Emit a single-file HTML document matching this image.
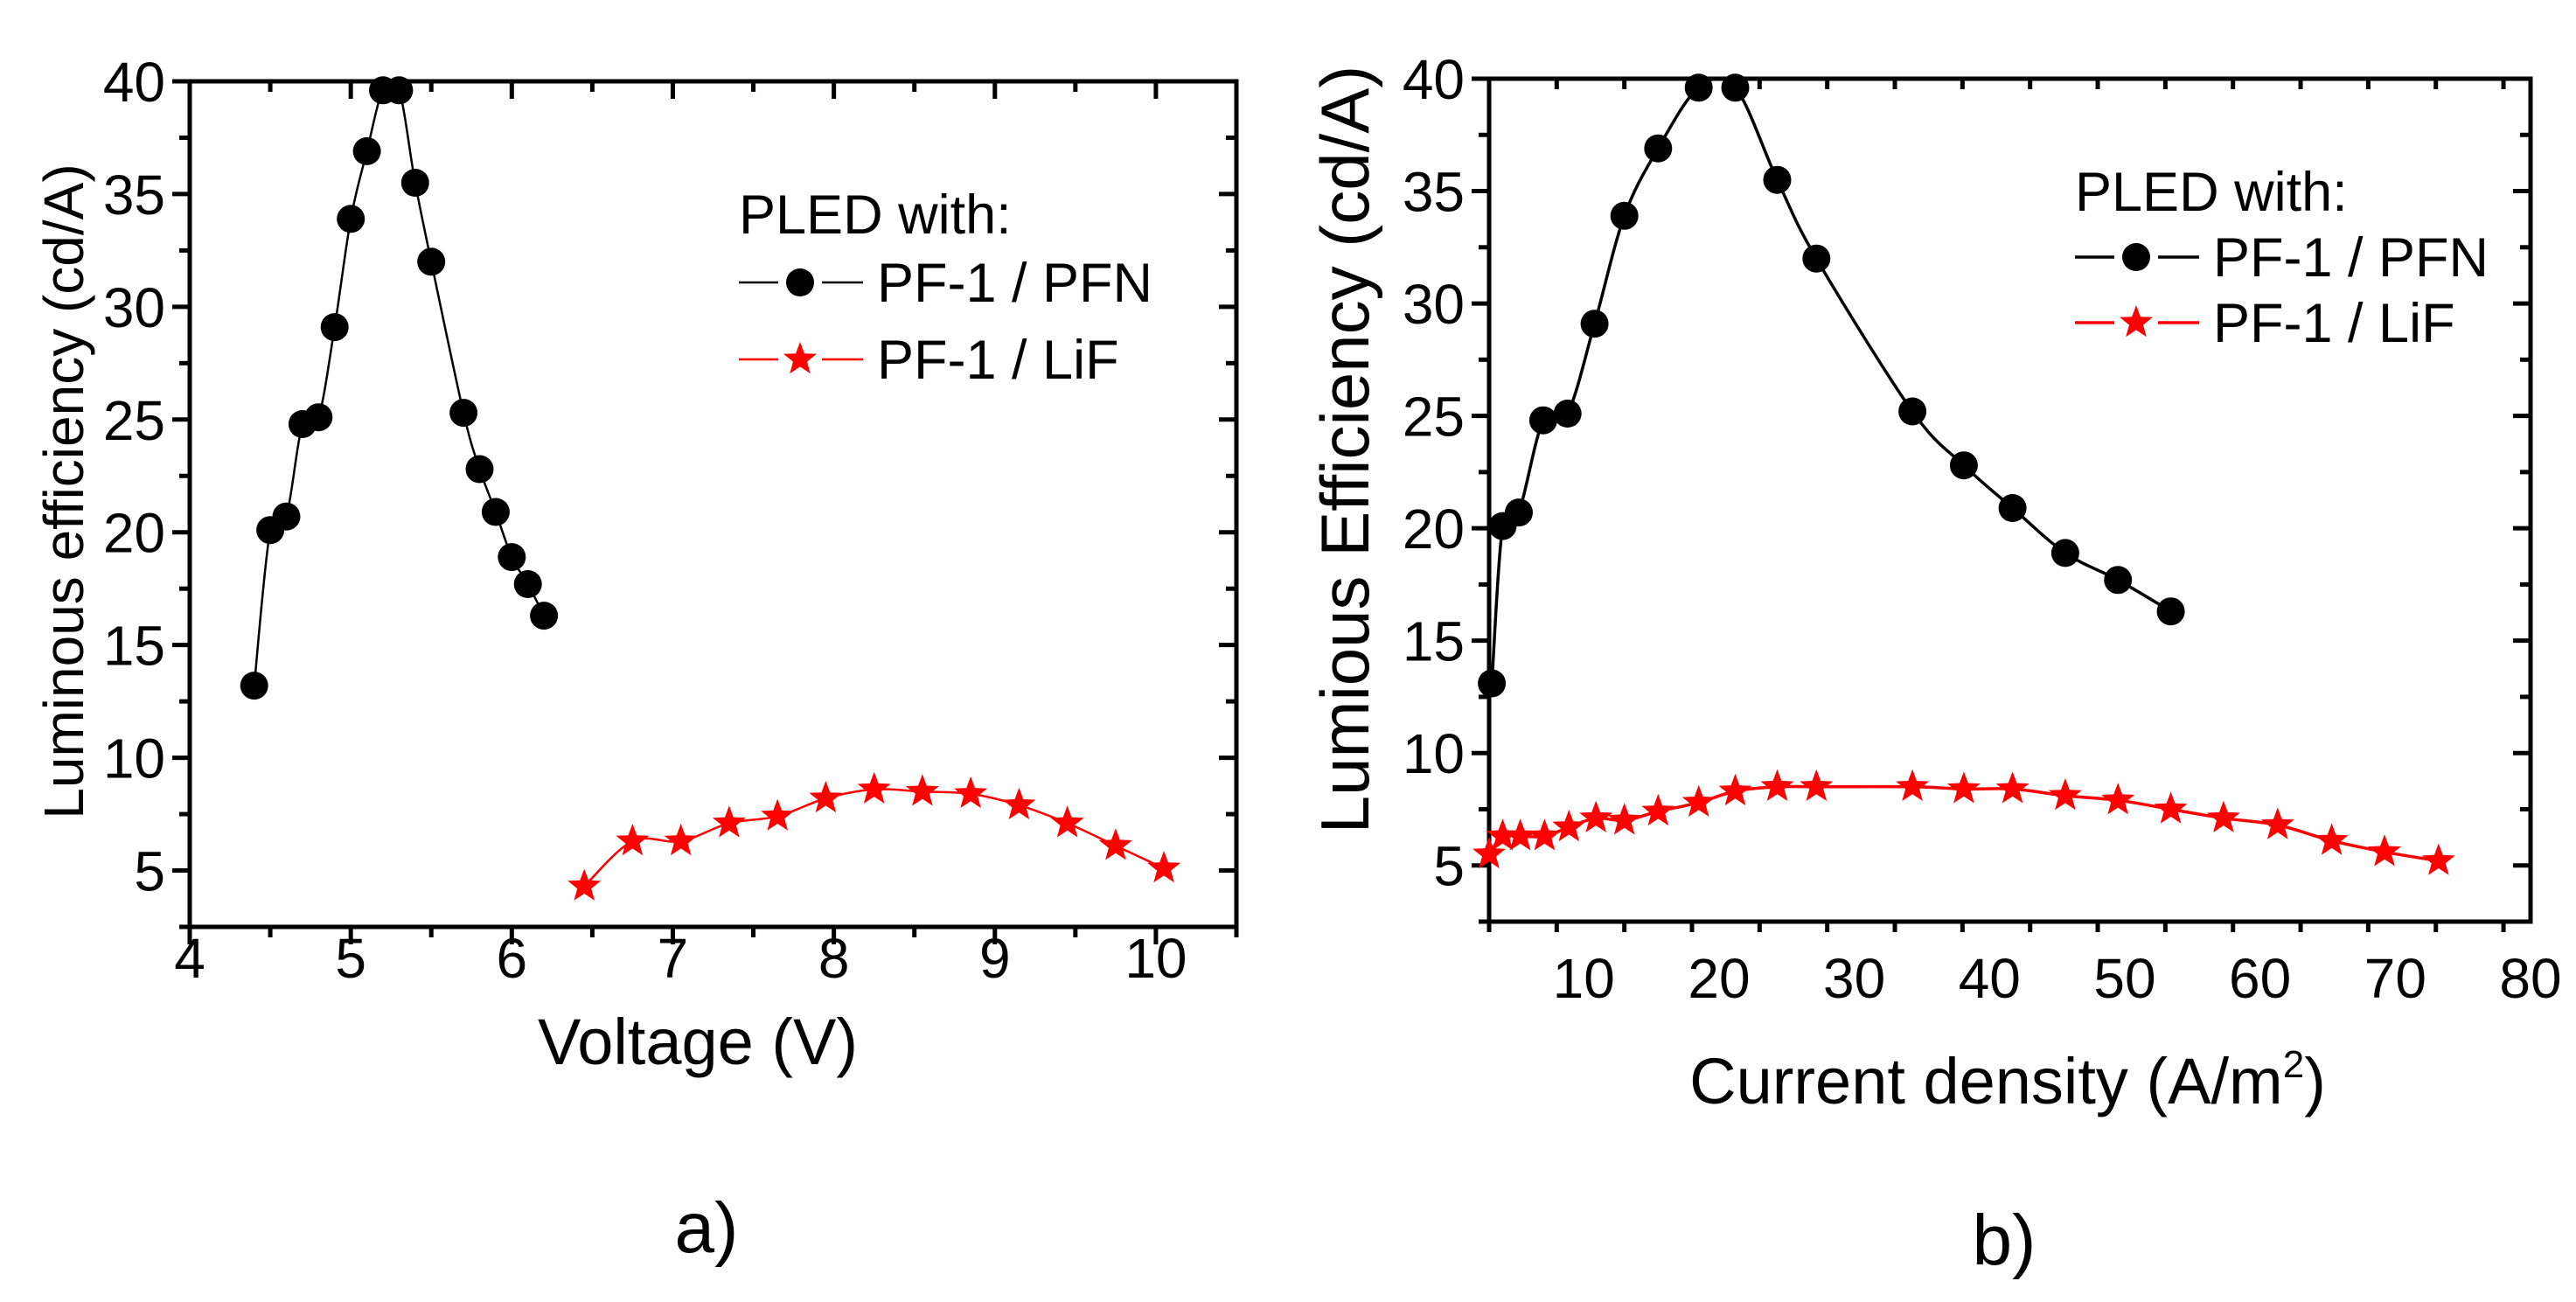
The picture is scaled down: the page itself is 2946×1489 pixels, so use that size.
<!DOCTYPE html>
<html><head><meta charset="utf-8"><style>
body{margin:0;background:#fff;}
svg text{font-family:"Liberation Sans",Arial,sans-serif;fill:#000;}
</style></head><body>
<svg id="fig" width="2946" height="1484" viewBox="0 0 2946 1484" xmlns="http://www.w3.org/2000/svg"></svg>
<script>
const voltageA = [4.4,4.5,4.6,4.7,4.8,4.9,5.0,5.1,5.2,5.3,5.4,5.5,5.7,5.8,5.9,6.0,6.1,6.2];
const pfnEffA = [13.2,20.1,20.7,24.8,25.1,29.1,33.9,36.9,39.6,39.6,35.5,32.0,25.3,22.8,20.9,18.9,17.7,16.3];
const voltageLiF = [6.45,6.75,7.05,7.35,7.65,7.95,8.25,8.55,8.85,9.15,9.45,9.75,10.05];
const lifEffA = [4.3,6.3,6.3,7.1,7.4,8.2,8.6,8.5,8.4,7.9,7.1,6.1,5.1];
const currentPFN = [3.2,4.0,5.2,7.0,8.8,10.8,13.0,15.5,18.5,21.2,24.3,27.2,34.3,38.1,41.7,45.6,49.5,53.4];
const pfnEffB = [13.1,20.1,20.7,24.8,25.1,29.1,33.9,36.9,39.6,39.6,35.5,32.0,25.2,22.8,20.9,18.9,17.7,16.3];
const currentLiF = [3.0,4.0,5.3,7.1,8.9,10.9,13.0,15.5,18.5,21.2,24.3,27.2,34.3,38.1,41.7,45.6,49.5,53.4,57.3,61.3,65.3,69.2,73.2];
const lifEffB = [5.5,6.3,6.3,6.3,6.7,7.1,7.0,7.4,7.8,8.3,8.5,8.5,8.5,8.4,8.4,8.1,7.9,7.5,7.1,6.8,6.1,5.6,5.2];
const yTicks = [5,10,15,20,25,30,35,40];
const xTicksA = [4,5,6,7,8,9,10];
const xTicksB = [10,20,30,40,50,60,70,80];

const NS="http://www.w3.org/2000/svg";
const svg=document.getElementById('fig');
function mk(tag,attrs,parent){const e=document.createElementNS(NS,tag);for(const k in attrs)e.setAttribute(k,attrs[k]);(parent||svg).appendChild(e);return e;}
function starPts(cx,cy,R){const r=R*0.42;let p=[];for(let i=0;i<10;i++){const a=-Math.PI/2+i*Math.PI/5;const rr=i%2?r:R;p.push((cx+rr*Math.cos(a)).toFixed(1)+','+(cy+rr*Math.sin(a)).toFixed(1));}return p.join(' ');}
function smoothPath(pts){let d='M'+pts[0][0]+','+pts[0][1];for(let i=0;i<pts.length-1;i++){const p0=pts[Math.max(i-1,0)],p1=pts[i],p2=pts[i+1],p3=pts[Math.min(i+2,pts.length-1)];const c1=[p1[0]+(p2[0]-p0[0])/6,p1[1]+(p2[1]-p0[1])/6],c2=[p2[0]-(p3[0]-p1[0])/6,p2[1]-(p3[1]-p1[1])/6];d+=' C'+c1+' '+c2+' '+p2;}return d;}

function panel(cfg){
  const g=mk('g',{});
  
  
  const X=v=>cfg.x0+(v-cfg.xmin)/(cfg.xmax-cfg.xmin)*(cfg.x1-cfg.x0);
  const Y=v=>cfg.y1-(v-2.5)/(40-2.5)*(cfg.y1-cfg.y0);
  const fr=mk('rect',{x:cfg.x0,y:cfg.y0,width:cfg.x1-cfg.x0,height:cfg.y1-cfg.y0,fill:'none',stroke:'#000','stroke-width':5},g);
  
  
  for(let v=2.5;v<=40.01;v+=2.5){
    const major=Math.abs(v%5)<0.01;const y=Y(v);const L=major?20:12;
    mk('line',{x1:cfg.x0-L,y1:y,x2:cfg.x0,y2:y,stroke:'#000','stroke-width':5},g);
    mk('line',{x1:cfg.x1-L,y1:y,x2:cfg.x1,y2:y,stroke:'#000','stroke-width':5},g);
  }
  yTicks.forEach(v=>{const t=mk('text',{x:cfg.x0-28,y:Y(v)+23,'font-size':64,'text-anchor':'end'},g);t.textContent=v;
    
    });
  for(let v=cfg.xmin;v<=cfg.xmax+1e-6;v+=cfg.minor){
    const major=Math.abs((v/cfg.major)-Math.round(v/cfg.major))<1e-6;const x=X(v);const L=major?20:12;
    if(x<cfg.x0-1)continue;
    mk('line',{x1:x,y1:cfg.y1,x2:x,y2:cfg.y1+L,stroke:'#000','stroke-width':5},g);
    mk('line',{x1:x,y1:cfg.y0,x2:x,y2:cfg.y0+L,stroke:'#000','stroke-width':5},g);
  }
  cfg.xticks.forEach(v=>{const t=mk('text',{x:X(v),y:cfg.xlabY,'font-size':64,'text-anchor':'middle'},g);t.textContent=v;
    
    });
  const clipId='clip'+cfg.name;
  const cp=mk('clipPath',{id:clipId},g);mk('rect',{x:cfg.x0-20,y:cfg.y0-25,width:cfg.x1-cfg.x0+40,height:cfg.y1-cfg.y0+50},cp);
  cfg.series.forEach(s=>{
    const pts=s.x.map((v,i)=>[+X(v).toFixed(1),+Y(s.y[i]).toFixed(1)]);
    const sg=mk('g',{'clip-path':'url(#'+clipId+')'},g);
    
    
    mk('path',{d:smoothPath(pts),fill:'none',stroke:s.color,'stroke-width':cfg.lw},sg);
    pts.forEach(p=>{
      let m;
      if(s.marker==='circle') m=mk('circle',{cx:p[0],cy:p[1],r:16,fill:'#000'},sg);
      else m=mk('polygon',{points:starPts(p[0],p[1],20),fill:'#f00'},sg);
      
      
    });
  });
  const lg=mk('g',{},g);
  
  
  const L=cfg.legend;
  const h=mk('text',{x:L.x,y:L.y,'font-size':63},lg);h.textContent='PLED with:';
  [['#000','circle','PF-1 / PFN',L.y1],['#f00','star','PF-1 / LiF',L.y2]].forEach(e=>{
    const eg=mk('g',{},lg);
    
    
    const cy=e[3]-22;
    mk('line',{x1:L.x,y1:cy,x2:L.x+45,y2:cy,stroke:e[0],'stroke-width':cfg.lw},eg);
    mk('line',{x1:L.x+95,y1:cy,x2:L.x+142,y2:cy,stroke:e[0],'stroke-width':cfg.lw},eg);
    if(e[1]==='circle')mk('circle',{cx:L.x+70,cy:cy,r:16,fill:'#000'},eg);
    else mk('polygon',{points:starPts(L.x+70,cy,20),fill:'#f00'},eg);
    const t=mk('text',{x:L.x+158,y:e[3],'font-size':63},eg);t.textContent=e[2];
  });
  const xt=mk('text',{x:cfg.xtitle[0],y:cfg.xtitle[1],'font-size':74,'text-anchor':'middle'},g);
  xt.innerHTML=cfg.xtitleText;
  
  
  const yt=mk('text',{x:0,y:0,'font-size':cfg.ytfs,'text-anchor':'middle',transform:'translate('+cfg.ytitle[0]+','+cfg.ytitle[1]+') rotate(-90)'},g);
  yt.textContent=cfg.ytitleText;
  
  
  const pl=mk('text',{x:cfg.plab[0],y:cfg.plab[1],'font-size':82,'text-anchor':'middle'},g);
  pl.textContent=cfg.plabText;
  
  
}

panel({name:'chart-a',x0:217,x1:1414,y0:93,y1:1060,xmin:4,xmax:10.5,minor:0.5,major:1,xticks:xTicksA,xlabY:1118,lw:2.5,
  series:[{name:'pf1-pfn-series',x:voltageA,y:pfnEffA,color:'#000',marker:'circle'},{name:'pf1-lif-series',x:voltageLiF,y:lifEffA,color:'#f00',marker:'star'}],
  legend:{x:845,y:267,y1:345,y2:433},
  xtitle:[798,1217],xtitleText:'Voltage (V)',ytfs:64,ytitle:[95,562],ytitleText:'Luminous efficiency (cd/A)',plab:[808,1432],plabText:'a)'});
panel({name:'chart-b',x0:1703,x1:2894,y0:90,y1:1054,xmin:3,xmax:80,minor:5,major:10,xticks:xTicksB,xlabY:1141,lw:3.5,
  series:[{name:'pf1-pfn-series',x:currentPFN,y:pfnEffB,color:'#000',marker:'circle'},{name:'pf1-lif-series',x:currentLiF,y:lifEffB,color:'#f00',marker:'star'}],
  legend:{x:2373,y:241,y1:316,y2:391},
  xtitle:[2296,1262],xtitleText:'Current density (A/m<tspan font-size="44" dy="-30">2</tspan><tspan dy="30">)</tspan>',ytfs:78,ytitle:[1565,514],ytitleText:'Lumious Efficiency (cd/A)',plab:[2292,1446],plabText:'b)'});
</script>
</body></html>
